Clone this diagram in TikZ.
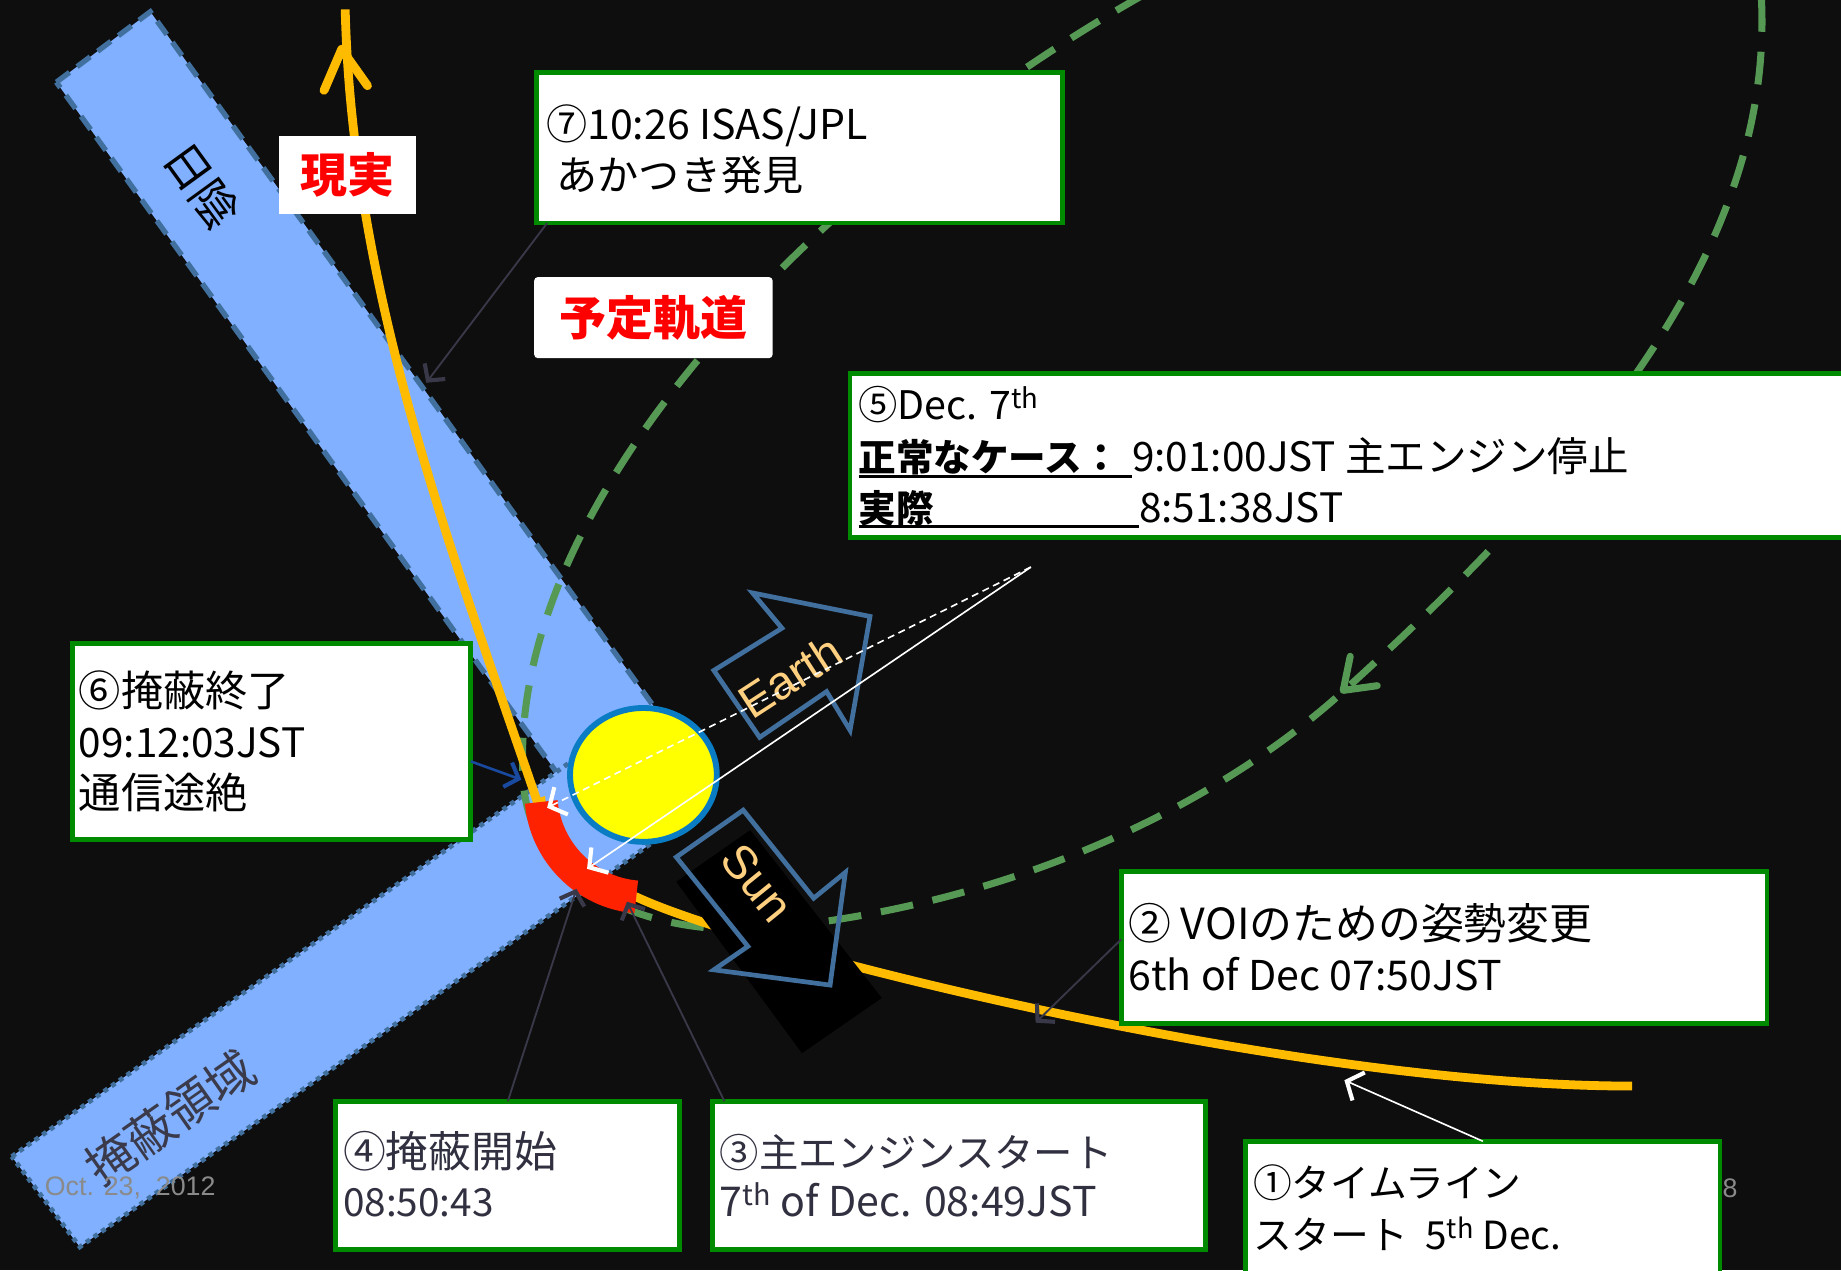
\documentclass[tikz,border=0pt]{standalone}
\usepackage{fontspec}
\setmainfont{Noto Sans CJK JP}
\newfontfamily\latinsans{Liberation Sans}
\usetikzlibrary{arrows.meta,calc}

\definecolor{bg}{HTML}{0E0E0E}
\definecolor{bandfill}{HTML}{80B0FF}
\definecolor{bandedge}{HTML}{41709E}
\definecolor{bandtext}{HTML}{3A3A4A}
\definecolor{plangreen}{HTML}{559955}
\definecolor{boxgreen}{HTML}{008A00}
\definecolor{orbit}{HTML}{FFBB00}
\definecolor{burn}{HTML}{FF2200}
\definecolor{venus}{HTML}{FFFF00}
\definecolor{venusrim}{HTML}{0A7CC4}
\definecolor{dirlabel}{HTML}{FFD080}
\definecolor{leader}{HTML}{383848}
\definecolor{leaderblue}{HTML}{1A4AA0}
\definecolor{slidegray}{HTML}{8A8A8A}
\definecolor{labelred}{HTML}{FF0000}
\definecolor{darktext}{HTML}{303040}

% fixed-width underlined field
\newcommand\ulfix[2]{\makebox[#1][l]{\rlap{\rule[-5pt]{#1}{2.5pt}}#2}}
\newcommand\fs[1]{\fontsize{#1}{#1}\selectfont}

\begin{document}
\begin{tikzpicture}[x=1pt,y=-1pt,
  panel/.style={draw=boxgreen, line width=4pt, fill=white, anchor=north west, inner sep=0pt, outer sep=0pt},
  tline/.style={anchor=base west, inner sep=0pt, font=\fs{34.5}},
  redlabel/.style={fill=white, inner sep=0pt, text=labelred, font=\fs{40}\bfseries},
  leaderline/.style={draw=leader, line width=1.6pt, -{Straight Barb[length=10pt,width=22pt,line width=3.5pt]}},
  whiteray/.style={draw=white, line width=1.4pt, -{Straight Barb[length=11pt,width=26pt,line width=3.5pt]}},
  orbitline/.style={draw=orbit, line width=7.5pt},
  planline/.style={draw=plangreen, line width=6pt, dash pattern=on 28pt off 17pt},
  dirarrow/.style={draw=bandedge, line width=4pt, line join=miter},
  dirtext/.style={text=dirlabel, font=\latinsans\fs{40}, inner sep=0pt},
  slidetext/.style={anchor=west, inner sep=0pt, font=\latinsans\fs{22.8}, text=slidegray},
]
\useasboundingbox (0,0) rectangle (1568,1082);
\clip (0,0) rectangle (1568,1082);
\fill[bg] (0,0) rectangle (1568,1082);

% shadow band
\filldraw[fill=bandfill, draw=bandedge, line width=4.5pt, dash pattern=on 14pt off 8pt]
  (48,70) -- (128,10) -- (581,635) -- (501,695) -- cycle;
\node[rotate=-54, font=\fs{39}] (shadowlbl) at (172,158) {日陰};

% occultation band
\filldraw[fill=bandfill, draw=bandedge, line width=4pt, dash pattern=on 4pt off 4pt]
  (10,985) -- (520.6,624.4) -- (578.6,701.4) -- (68,1062) -- cycle;
\node[rotate=35, font=\fs{41}, text=bandtext] (occlbl) at (145,952) {掩蔽領域};

\node[slidetext] (date) at (38,1012) {Oct. 23,\ \ 2012};
\node[slidetext] (pageno) at (1467,1012) {8};

% planned orbit
\draw[planline] (975,-5) .. controls (714,142) and (426,420) .. (446,670)
  .. controls (455,760) and (560,800) .. (660,790)
  .. controls (860,770) and (1034,688.5) .. (1145,588)
  .. controls (1367,387) and (1512,200) .. (1500,-5);
\draw[draw=plangreen, line width=6pt, line cap=round, line join=round]
  (1150,559) -- (1144,588) -- (1173,584);

% planet
\filldraw[fill=venus, draw=venusrim, line width=5pt] (548,660) ellipse [x radius=62.5, y radius=57];

% actual orbit
\draw[orbitline] (294,8) .. controls (300,250) and (385,470) .. (458,684) -- (461,683)
  arc[start angle=175, end angle=95, radius=89]
  .. controls (640,810) and (1100,925) .. (1390,925);
\draw[orbitline, line cap=round, line join=round] (276,77) -- (291,42) -- (313,73);

% engine burn
\draw[draw=burn, line width=28pt] (461,683) arc[start angle=175, end angle=95, radius=89];

% direction arrows
\fill[black] (576,751) -- (639,707) -- (751,850) -- (683,897) -- cycle;
\draw[dirarrow] (633,690) -- (693,765) -- (720,743) -- (707,839) -- (608,826) -- (637,806) -- (576,730) -- cycle;
\node[dirtext, rotate=-51] (sunlbl) at (645,752) {Sun};
\draw[dirarrow] (741,525) -- (641,505) -- (666,535) -- (608,571) -- (647,628) -- (704,589) -- (724,622) -- cycle;
\node[dirtext, rotate=33] (earthlbl) at (673,576) {Earth};

% lines of sight
\coordinate (src) at (878,483);
\coordinate (hitA) at (466,688);
\coordinate (hitB) at (500,740);
\draw[whiteray, dash pattern=on 6pt off 4pt] (src) -- (hitA);
\draw[whiteray] (src) -- (hitB);

% orbit labels
\node[redlabel, minimum width=116pt, minimum height=66pt] (real) at (296,149) {現実};
\node[redlabel, rounded corners=3pt, minimum width=203pt, minimum height=69pt] (plan) at (556.5,270.5) {予定軌道};

% event panels
\node[panel, minimum width=448pt, minimum height=128pt] (b7) at (457,62) {};
\node[tline, font=\fs{35}] (b7a) at (465,119) {⑦10:26 ISAS/JPL};
\node[tline, font=\fs{35}] (b7b) at (474,162) {あかつき発見};

\node[panel, minimum width=900pt, minimum height=140pt] (b5) at (724,318) {};
\node[tline, font=\fs{33.5}] (b5a) at (731,357) {⑤Dec. 7\textsuperscript{th}};
\node[tline] (b5b) at (731,402) {\ulfix{233pt}{\fs{32}\bfseries 正常なケース：}9:01:00JST 主エンジン停止};
\node[tline] (b5c) at (731,445) {\ulfix{239pt}{\fs{32}\bfseries 実際}8:51:38JST};

\node[panel, minimum width=339pt, minimum height=167pt] (b6) at (62,548) {};
\node[tline, font=\fs{36}] (b6a) at (67,602) {⑥掩蔽終了};
\node[tline] (b6b) at (67,645) {09:12:03JST};
\node[tline, font=\fs{36}] (b6c) at (67,689) {通信途絶};

\node[panel, minimum width=550pt, minimum height=130pt] (b2) at (955,742) {};
\node[tline, font=\fs{36.5}] (b2a) at (961,800) {② VOIのための姿勢変更};
\node[tline, font=\fs{35}] (b2b) at (961,844) {6th of Dec 07:50JST};

\node[panel, minimum width=293pt, minimum height=126pt] (b4) at (286,938) {};
\node[tline, font=\fs{36.5}, text=darktext] (b4a) at (292,994) {④掩蔽開始};
\node[tline, font=\fs{33}, text=darktext] (b4b) at (292,1036) {08:50:43};

\node[panel, minimum width=420pt, minimum height=126pt] (b3) at (607,938) {};
\node[tline, font=\fs{33.5}, text=darktext] (b3a) at (613,994) {③主エンジンスタート};
\node[tline, font=\fs{35}, text=darktext] (b3b) at (613,1036) {7\textsuperscript{th} of Dec. 08:49JST};

\node[panel, minimum width=404pt, minimum height=150pt] (b1) at (1061,972) {};
\node[tline, font=\fs{33}] (b1a) at (1067,1020) {①タイムライン};
\node[tline, font=\fs{33}] (b1b) at (1067,1064) {スタート\ \ 5\textsuperscript{th} Dec.};

% leaders
\coordinate (t7) at (363,326);
\coordinate (t2) at (882,871);
\coordinate (t4) at (491,757);
\coordinate (t3) at (534,768);
\coordinate (t1) at (1145,920);
\coordinate (t6) at (444,664);
\draw[leaderline] ($(b7.south west)+(9,0)$) -- (t7);
\draw[leaderline] ($(b2.west)+(0,-7)$) -- (t2);
\draw[leaderline] (b4.north) -- (t4);
\draw[leaderline] ($(b3.north west)+(10,0)$) -- (t3);
\draw[whiteray] (b1.north) -- (t1);
\draw[leaderline, draw=leaderblue, line width=2.2pt] ($(b6.east)+(0,17)$) -- (t6);
\end{tikzpicture}
\end{document}
